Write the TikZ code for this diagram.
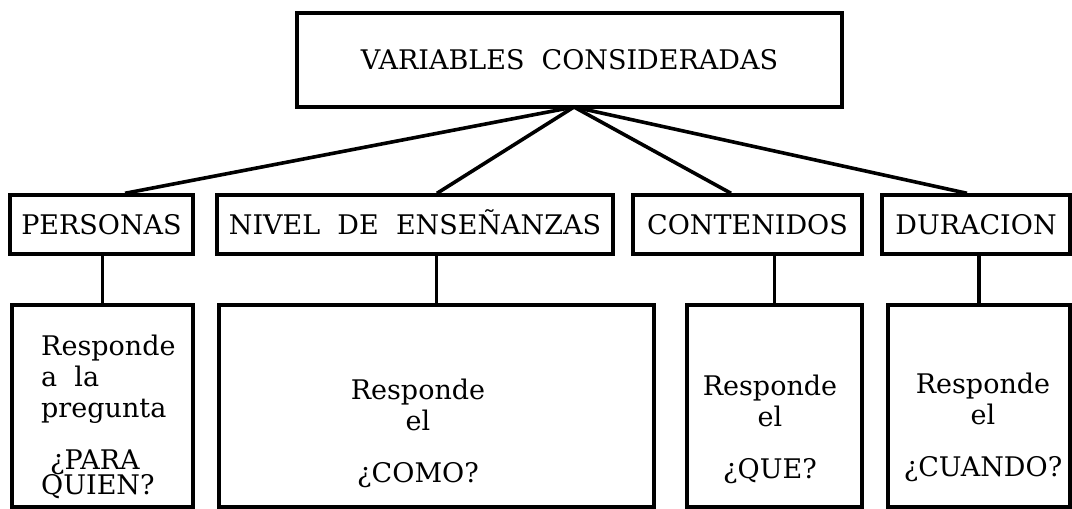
\documentclass[tikz,border=0pt]{standalone}
\usepackage{fontspec}
\setmainfont{DejaVu Serif}[WordSpace=2]
\usepackage{tikz}

\begin{document}
\begin{tikzpicture}[x=1pt,y=-1pt,
  box/.style={draw,line width=3.4pt,inner sep=0pt,font=\fontsize{27}{31}\selectfont,text height=19.5pt,text depth=0pt},
  resp/.style={inner sep=0pt,align=center,anchor=north,font=\fontsize{27}{31}\selectfont},
  link/.style={line width=3.6pt}]
\useasboundingbox (0,0) rectangle (1072,509);
\node[box,minimum width=545pt,minimum height=94pt] (vars) at (569.5,60) {VARIABLES CONSIDERADAS};
\coordinate (hub) at (574,107);
\node[box,minimum width=183pt,minimum height=59pt] (personas) at (101.5,224.5) {PERSONAS};
\node[box,minimum width=396pt,minimum height=59pt] (nivel) at (415,224.5) {NIVEL DE ENSEÑANZAS};
\node[box,minimum width=229pt,minimum height=59pt] (contenidos) at (747.5,224.5) {CONTENIDOS};
\node[box,minimum width=188pt,minimum height=59pt] (duracion) at (976,224.5) {DURACION};
\node[box,minimum width=181pt,minimum height=202pt] (quien) at (102.5,406) {};
\node[box,minimum width=435pt,minimum height=202pt] (como) at (436.5,406) {};
\node[box,minimum width=175pt,minimum height=202pt] (que) at (774.5,406) {};
\node[box,minimum width=182pt,minimum height=202pt] (cuando) at (979,406) {};
\node[resp,align=left,anchor=north west] (tquien) at (41,335) {Responde\\a la\\pregunta\\[21pt]\hspace*{9pt}¿PARA\\[-6pt]QUIEN?};
\node[resp] (tcomo) at (418,379) {Responde\\el\\[21pt]¿COMO?};
\node[resp] (tque) at (770,375) {Responde\\el\\[21pt]¿QUE?};
\node[resp] (tcuando) at (983,373) {Responde\\el\\[21pt]¿CUANDO?};
\draw[link] (hub) -- ([xshift=23.5pt]personas.north);
\draw[link] (hub) -- ([xshift=22pt]nivel.north);
\draw[link] (hub) -- ([xshift=-16.5pt]contenidos.north);
\draw[link] (hub) -- ([xshift=-9pt]duracion.north);
\draw[link] (quien.north |- personas.south) -- (quien.north);
\draw[link] (como.north |- nivel.south) -- (como.north);
\draw[link] (que.north |- contenidos.south) -- (que.north);
\draw[link] (cuando.north |- duracion.south) -- (cuando.north);
\end{tikzpicture}
\end{document}
